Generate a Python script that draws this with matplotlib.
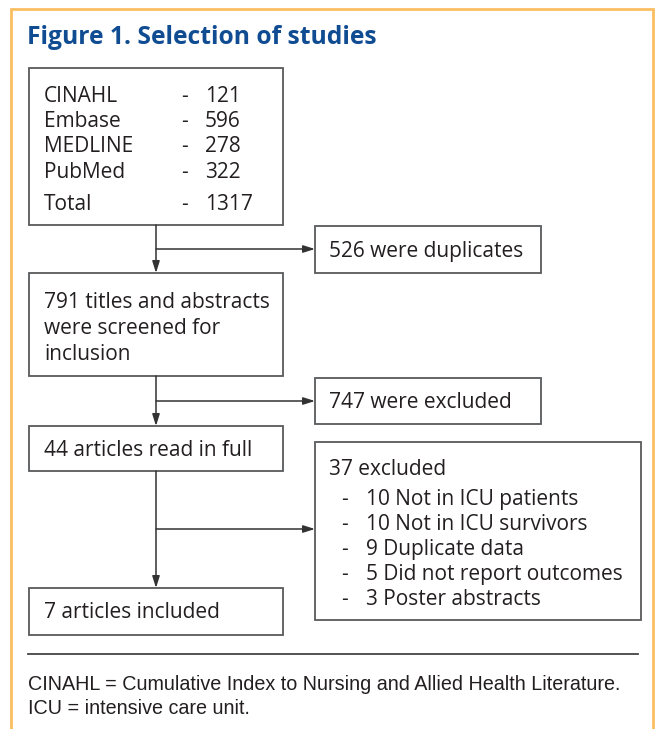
import matplotlib.pyplot as plt
from matplotlib.patches import Rectangle

# data
databases = ["CINAHL", "Embase", "MEDLINE", "PubMed"]
db_counts = [121, 596, 278, 322]
total_label = "Total"
n_duplicates = 526
n_screened = 791
n_excluded_screen = 747
n_full_text = 44
n_included = 7
exclusion_reasons = ["Not in ICU patients", "Not in ICU survivors", "Duplicate data",
                     "Did not report outcomes", "Poster abstracts"]
exclusion_counts = [10, 10, 9, 5, 3]
title = "Figure 1. Selection of studies"
footnotes = ["CINAHL = Cumulative Index to Nursing and Allied Health Literature.",
             "ICU = intensive care unit."]

TEXT = "#231f20"
EDGE = "#58595b"
BLUE = "#0f4c92"
ORANGE = "#fbbf63"
FS = 15.0
FONT = "Open Sans"
DY = 2  # small baseline nudge

fig = plt.figure(figsize=(6.56, 7.29), dpi=100)
ax = fig.add_axes([0, 0, 1, 1])
ax.set_xlim(0, 656)
ax.set_ylim(729, 0)
ax.axis("off")

# outer frame (open at the bottom)
ax.plot([11, 11, 653, 653], [729, 9, 9, 729], color=ORANGE, lw=2, solid_joinstyle="miter")

ax.text(27, 35 + DY, title, color=BLUE, fontsize=17.7, fontweight="bold", family=FONT,
        ha="left", va="center")


def box(x0, y0, x1, y1):
    ax.add_patch(Rectangle((x0, y0), x1 - x0, y1 - y0, fill=False, ec=EDGE, lw=1.3))


def txt(x, y, s, **kw):
    ax.text(x, y + DY, s, color=TEXT, fontsize=FS, family=FONT, ha="left", va="center", **kw)


def arrow(x0, y0, x1, y1):
    ax.annotate("", xy=(x1, y1), xytext=(x0, y0),
                arrowprops=dict(arrowstyle="-|>,head_length=0.7,head_width=0.22",
                                color="#333333", lw=1.1, shrinkA=0, shrinkB=0))


# search results
box(29, 68, 283, 225)
rows = list(zip(databases, db_counts)) + [(total_label, sum(db_counts))]
ys = [94, 119, 144, 170, 202]
for (name, cnt), y in zip(rows, ys):
    txt(44, y, name)
    txt(181, y, "-")
    txt(205, y, str(cnt))

box(315, 226, 541, 273)
txt(329, 249, f"{n_duplicates} were duplicates")

box(29, 273, 283, 376)
for y, line in zip([300, 326, 352], [f"{n_screened} titles and abstracts", "were screened for", "inclusion"]):
    txt(44, y, line)

box(315, 378, 541, 424)
txt(329, 400, f"{n_excluded_screen} were excluded")

box(29, 426, 283, 471)
txt(44, 448, f"{n_full_text} articles read in full")

box(315, 442, 641, 620)
txt(329, 467, f"{sum(exclusion_counts)} excluded")
for i, (c, r) in enumerate(zip(exclusion_counts, exclusion_reasons)):
    y = 497 + i * 25.2
    txt(341, y, "-")
    txt(366, y, f"{c} {r}")

box(29, 588, 283, 635)
txt(44, 610, f"{n_included} articles included")

# connectors
cx = 156
arrow(cx, 225, cx, 273)
arrow(cx, 249, 315, 249)
arrow(cx, 376, cx, 426)
arrow(cx, 401, 315, 401)
arrow(cx, 471, cx, 588)
arrow(cx, 529, 315, 529)

# footnote
ax.plot([28, 638], [654, 654], color="#444444", lw=1.3)
for i, line in enumerate(footnotes):
    ax.text(28, 683 + DY + i * 24, line, color=TEXT, fontsize=14.2, family="Liberation Sans",
            ha="left", va="center")

fig.savefig("out.png", dpi=100)
